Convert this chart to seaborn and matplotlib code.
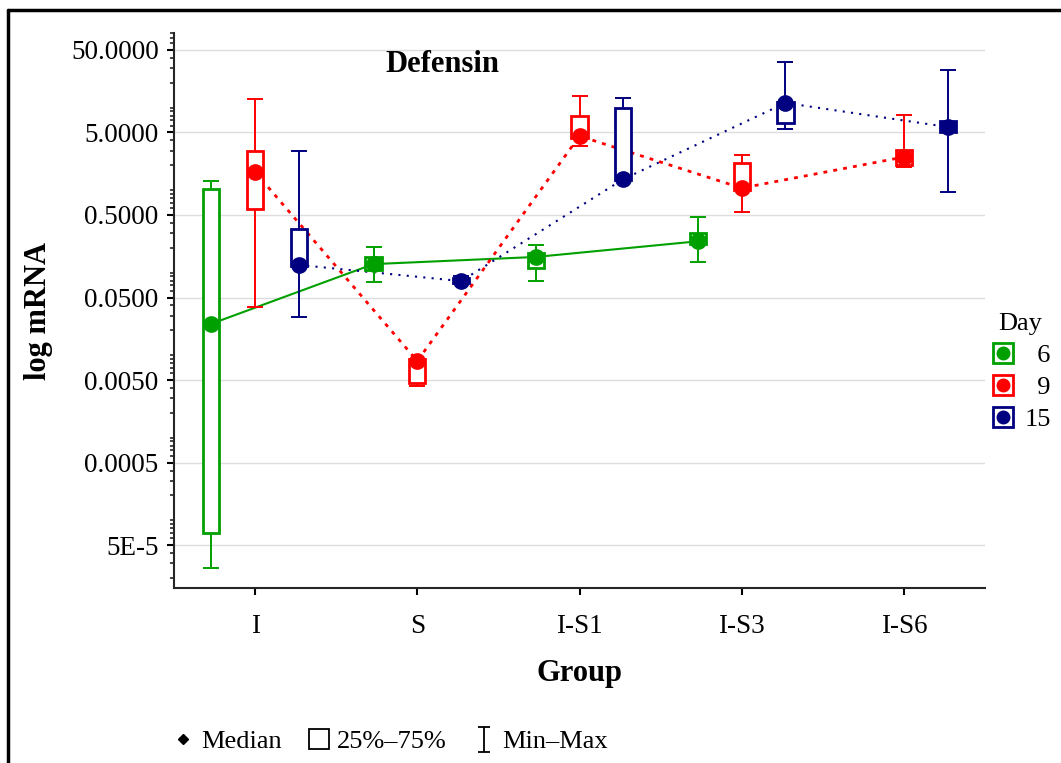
import numpy as np
import pandas as pd
import matplotlib
matplotlib.use("Agg")
import matplotlib.pyplot as plt
import seaborn as sns
from matplotlib.lines import Line2D
from matplotlib.path import Path
from matplotlib.legend_handler import HandlerTuple
from matplotlib.ticker import LogLocator, NullFormatter

# ---------------- data ----------------
groups = ["I", "S", "I-S1", "I-S3", "I-S6"]
days = ["6", "9", "15"]

day6_median = [0.024, 0.127, 0.155, 0.240, np.nan]
day6_q1 = [7.0e-5, 0.108, 0.114, 0.220, np.nan]
day6_q3 = [1.03, 0.155, 0.173, 0.300, np.nan]
day6_min = [2.6e-5, 0.077, 0.079, 0.134, np.nan]
day6_max = [1.29, 0.205, 0.216, 0.470, np.nan]

day9_median = [1.66, 0.0085, 4.53, 1.06, 2.52]
day9_q1 = [0.59, 0.0046, 4.28, 1.00, 2.02]
day9_q3 = [2.98, 0.0090, 7.90, 2.13, 3.07]
day9_min = [0.0384, 0.0042, 3.43, 0.54, 1.91]
day9_max = [12.7, 0.0090, 13.8, 2.67, 8.15]

day15_median = [0.124, 0.079, 1.36, 11.4, 5.83]
day15_q1 = [0.120, 0.075, 1.32, 6.5, 5.07]
day15_q3 = [0.338, 0.085, 9.9, 11.7, 6.9]
day15_min = [0.029, 0.072, 1.32, 5.5, 0.95]
day15_max = [2.98, 0.090, 13.1, 35.8, 28.6]

ytick_values = [5e-5, 5e-4, 5e-3, 5e-2, 0.5, 5, 50]
ytick_labels = ["5E-5", "0.0005", "0.0050", "0.0500", "0.5000", "5.0000", "50.0000"]

colors = {"6": "#00a000", "9": "#ff0000", "15": "#000080"}

stats = {
    "6": (day6_median, day6_q1, day6_q3, day6_min, day6_max),
    "9": (day9_median, day9_q1, day9_q3, day9_min, day9_max),
    "15": (day15_median, day15_q1, day15_q3, day15_min, day15_max),
}

rows = []
for d in days:
    med, q1, q3, mn, mx = stats[d]
    for g, m, a, b, lo, hi in zip(groups, med, q1, q3, mn, mx):
        if not np.isnan(m):
            rows.append(dict(group=g, day=d, median=m, q1=a, q3=b, mn=lo, mx=hi))
df = pd.DataFrame(rows)

# ---------------- style ----------------
sns.set_style("ticks")
plt.rcParams["font.family"] = ["Liberation Serif", "DejaVu Serif"]
plt.rcParams["axes.linewidth"] = 1.5
plt.rcParams["text.color"] = "black"
plt.rcParams["axes.labelcolor"] = "black"

W, H = 1061, 763
fig = plt.figure(figsize=(W / 100, H / 100), dpi=100)
ax = fig.add_axes([174 / W, 1 - 588 / H, (985 - 174) / W, (588 - 33) / H])
ax.set_yscale("log")

dodge = 0.54
offsets = dict(zip(days, np.linspace(-dodge / 2, dodge / 2, len(days))))
box_w = 0.1

# connecting median lines (lines only)
sns.pointplot(data=df, x="group", y="median", hue="day", order=groups,
              hue_order=days, palette=colors, dodge=dodge, errorbar=None,
              legend=False, ax=ax)
line_styles = {"6": dict(lw=1.5, ls="-"),
               "9": dict(lw=2.0, ls=(0, (1.4, 2.2))),
               "15": dict(lw=1.5, ls=(0, (1.0, 3.0)))}
for d, ln in zip(days, list(ax.lines)):
    ln.set_marker("None")
    ln.set_linewidth(line_styles[d]["lw"])
    ln.set_linestyle(line_styles[d]["ls"])
    ln.set_zorder(1.5)

# whiskers and boxes
for d in days:
    sub = df[df["day"] == d]
    xs = np.array([groups.index(g) for g in sub["group"]]) + offsets[d]
    ax.errorbar(xs, sub["median"], yerr=[sub["median"] - sub["mn"], sub["mx"] - sub["median"]],
                fmt="none", ecolor=colors[d], elinewidth=1.4, capsize=5.5, capthick=1.4,
                zorder=1.8)
    ax.bar(xs, sub["q3"] - sub["q1"], bottom=sub["q1"], width=box_w,
           facecolor="white", edgecolor=colors[d], linewidth=2.0, zorder=2)

# median markers
n_before = len(ax.lines)
sns.pointplot(data=df, x="group", y="median", hue="day", order=groups,
              hue_order=days, palette=colors, dodge=dodge, errorbar=None,
              legend=False, linestyles="none", markers="o", ax=ax)
for ln in ax.lines[n_before:]:
    ln.set_markersize(10)
    ln.set_zorder(3)

# ---------------- axes ----------------
ax.set_xlim(-0.5, 4.5)
ax.set_ylim(1.507e-5, 80.3)
ax.set_yticks(ytick_values)
ax.set_yticklabels(ytick_labels)
ax.yaxis.set_minor_locator(LogLocator(base=10, subs=np.arange(1, 10), numticks=50))
ax.yaxis.set_minor_formatter(NullFormatter())
ax.tick_params(axis="both", which="major", direction="out", length=5, width=1.5,
               labelsize=19.5, colors="black", pad=6)
ax.tick_params(axis="y", which="minor", direction="out", length=3, width=1.2)
ax.tick_params(axis="x", pad=14)
ax.grid(True, axis="y", which="major", color="#dddddd", lw=1)
ax.grid(False, axis="x")
ax.set_axisbelow(True)
sns.despine(ax=ax)
ax.set_xlabel("Group", fontsize=22, fontweight="bold", labelpad=14)
ax.set_ylabel("log mRNA", fontsize=22, fontweight="bold", labelpad=13)
fig.text(442 / W, 1 - 64 / H, "Defensin", fontsize=22, fontweight="bold",
         ha="center", va="center", color="black")

# ---------------- legends ----------------
day_handles = []
for d in days:
    sq = Line2D([], [], ls="none", marker="s", ms=15, mfc="white",
                mec=colors[d], mew=2)
    dot = Line2D([], [], ls="none", marker="o", ms=9, color=colors[d])
    day_handles.append((sq, dot))
fig.legend(day_handles, ["\u20076", "\u20079", "15"],
           handler_map={tuple: HandlerTuple(ndivide=1, pad=0)},
           loc="upper left", bbox_to_anchor=(990 / W, 1 - 313 / H), frameon=False,
           title="Day", fontsize=19, title_fontsize=19, handlelength=1.0,
           handletextpad=0.3, labelspacing=0.32, borderaxespad=0, borderpad=0)

ibeam = Path([(-0.5, 1), (0.5, 1), (0, 1), (0, -1), (-0.5, -1), (0.5, -1)],
             [Path.MOVETO, Path.LINETO, Path.MOVETO, Path.LINETO, Path.MOVETO, Path.LINETO])
bottom_handles = [
    Line2D([], [], ls="none", marker="D", ms=5, color="black"),
    Line2D([], [], ls="none", marker="s", ms=15, mfc="white", mec="black", mew=1.3),
    Line2D([], [], ls="none", marker=ibeam, ms=18, color="black", mew=1.3),
]
fig.legend(bottom_handles, ["Median", "25%\u201375%", "Min\u2013Max"],
           loc="center", bbox_to_anchor=(390 / W, 1 - 741 / H), ncol=3, frameon=False,
           fontsize=19, handlelength=0.8, handletextpad=0.3, columnspacing=1.0)

# figure frame (top and left edges)
fig.add_artist(Line2D([8 / W, 1.0], [1 - 10 / H, 1 - 10 / H], transform=fig.transFigure,
                      color="black", lw=2.5))
fig.add_artist(Line2D([8 / W, 8 / W], [0, 1 - 10 / H], transform=fig.transFigure,
                      color="black", lw=2.5))

fig.savefig("out.png", dpi=100)
